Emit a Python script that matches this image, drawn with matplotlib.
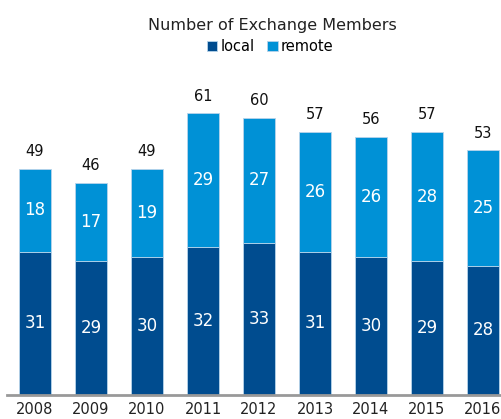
import numpy as np
import matplotlib.pyplot as plt

years = ["2008", "2009", "2010", "2011", "2012", "2013", "2014", "2015", "2016"]
local = [31, 29, 30, 32, 33, 31, 30, 29, 28]
remote = [18, 17, 19, 29, 27, 26, 26, 28, 25]
totals = [49, 46, 49, 61, 60, 57, 56, 57, 53]

c_local = "#004C8F"
c_remote = "#0091D6"

fig = plt.figure(figsize=(5.02, 4.19), dpi=100)
ax = fig.add_axes([0.014, 0.0573, 0.986, 0.771])

x = np.arange(len(years))
w = 0.57
b1 = ax.bar(x, local, w, color=c_local, edgecolor="#b8d4ea", linewidth=0.6, label="local")
b2 = ax.bar(x, remote, w, bottom=local, color=c_remote, edgecolor="#b8d4ea", linewidth=0.6, label="remote")

for i in range(len(years)):
    ax.text(x[i], local[i] / 2, str(local[i]), ha="center", va="center",
            color="white", fontsize=12)
    ax.text(x[i], local[i] + remote[i] / 2, str(remote[i]), ha="center", va="center",
            color="white", fontsize=12)
    ax.annotate(str(totals[i]), (x[i], totals[i]), xytext=(0, 7),
                textcoords="offset points", ha="center", va="bottom",
                fontsize=10.5, color="#111111")

ax.set_xlim(-0.5, 8.34)
ax.set_ylim(0, 70)
ax.set_xticks(x)
ax.set_xticklabels(years, fontsize=10.5, color="#222222")
ax.tick_params(axis="x", length=0, pad=5)
ax.set_yticks([])
for s in ["top", "right", "left"]:
    ax.spines[s].set_visible(False)
ax.spines["bottom"].set_color("#999999")
ax.spines["bottom"].set_linewidth(2)

fig.text(0.542, 0.94, "Number of Exchange Members", ha="center", va="center",
         fontsize=11.5, color="#222222")
fig.legend(handles=[b1, b2], loc="center", bbox_to_anchor=(0.538, 0.888), ncol=2,
           frameon=False, fontsize=10.5, handlelength=0.7, handleheight=0.7,
           handletextpad=0.2, columnspacing=0.9, borderpad=0)

fig.savefig("out.png", dpi=100)
